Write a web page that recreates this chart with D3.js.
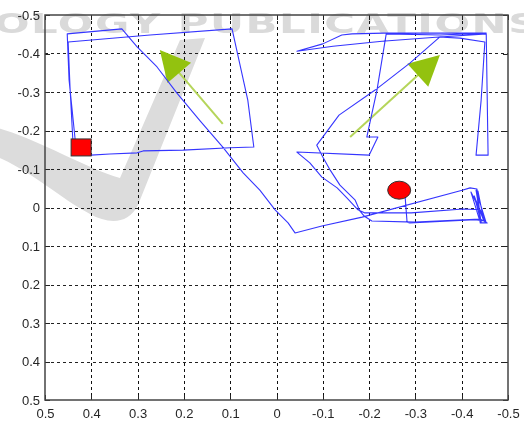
<!DOCTYPE html>
<html>
<head>
<meta charset="utf-8">
<script src="https://cdn.jsdelivr.net/npm/d3@7"></script>
<style>
  html, body { margin: 0; padding: 0; background: #fff; }
  svg { display: block; }
  .tick text { font-family: "Liberation Sans", Arial, sans-serif; font-size: 13px; fill: #262626; }
</style>
</head>
<body>
<svg id="chart" width="524" height="423"></svg>
<script>
// Axis ticks (x axis runs from +0.5 on the left to -0.5 on the right,
// y axis from -0.5 at the top to +0.5 at the bottom)
const xTicks = [0.5, 0.4, 0.3, 0.2, 0.1, 0, -0.1, -0.2, -0.3, -0.4, -0.5];
const xTickLabels = ["0.5", "0.4", "0.3", "0.2", "0.1", "0", "-0.1", "-0.2", "-0.3", "-0.4", "-0.5"];
const yTicks = [-0.5, -0.4, -0.3, -0.2, -0.1, 0, 0.1, 0.2, 0.3, 0.4, 0.5];
const yTickLabels = ["-0.5", "-0.4", "-0.3", "-0.2", "-0.1", "0", "0.1", "0.2", "0.3", "0.4", "0.5"];

// Recorded trajectory
const pathX = [0.431, 0.401, 0.360, 0.301, 0.288, 0.202, 0.100, 0.049, 0.062, 0.096, 0.273, 0.450,
  0.446, 0.440, 0.433, 0.435, 0.448, 0.452, 0.334, 0.301, 0.258, 0.215, 0.165, 0.116,
  0.072, 0.036, 0.003, -0.025, -0.040, -0.098, -0.185, -0.401,
  -0.418, -0.433, -0.435, -0.440, -0.420, -0.453, -0.431, -0.442, -0.427, -0.448, -0.435, -0.440, -0.455,
  -0.440, -0.299, -0.206, -0.189, -0.180,
  -0.170, -0.137, -0.116, -0.100, -0.087,
  -0.135, -0.213, -0.288, -0.353,
  -0.453,
  -0.455, -0.457, -0.431, -0.442, -0.450,
  -0.396, -0.351, -0.228, -0.122, -0.044,
  -0.100, -0.141, -0.163, -0.232, -0.353, -0.453, -0.353, -0.237,
  -0.217, -0.195, -0.219, -0.200, -0.044,
  -0.072, -0.098, -0.131, -0.152, -0.176,
  -0.191, -0.291, -0.403, -0.440, -0.450, -0.429, -0.288, -0.282, -0.278, -0.275];
const pathY = [-0.144, -0.136, -0.139, -0.142, -0.147, -0.149, -0.155, -0.157, -0.279, -0.464, -0.448, -0.430,
  -0.313, -0.178, -0.149, -0.178, -0.331, -0.451, -0.464, -0.417, -0.365, -0.297, -0.225, -0.157,
  -0.090, -0.045, 0.006, 0.040, 0.066, 0.048, 0.025, -0.045,
  -0.051, -0.048, -0.006, 0.038, -0.040, 0.040, -0.045, 0.038, -0.030, 0.035, -0.043, 0.040, 0.040,
  0.030, 0.038, 0.035, 0.022, 0.009,
  -0.019, -0.058, -0.097, -0.131, -0.162,
  -0.240, -0.305, -0.375, -0.443,
  -0.451,
  -0.292, -0.136, -0.136, -0.279, -0.430,
  -0.440, -0.443, -0.432, -0.419, -0.406,
  -0.425, -0.448, -0.451, -0.453, -0.453, -0.453, -0.448, -0.451,
  -0.305, -0.183, -0.183, -0.136, -0.144,
  -0.116, -0.079, -0.051, -0.025, 0.006,
  0.014, 0.014, 0.004, 0.006, 0.035, 0.032, 0.040, 0.038, -0.025, -0.030];

// Start / end markers
const startPoint = [0.422, -0.156];
const endPoint = [-0.265, -0.045];

// Direction arrows (tail -> tip)
const arrowTails = [[0.116, -0.217], [-0.159, -0.183]];
const arrowTips = [[0.252, -0.409], [-0.353, -0.396]];

const W = 524, H = 423;
const plot = { left: 45, top: 15, width: 463, height: 385 };

const svg = d3.select("#chart");
svg.append("rect").attr("width", W).attr("height", H).attr("fill", "#fff");

const x = d3.scaleLinear().domain([0.5, -0.5]).range([plot.left, plot.left + plot.width]);
const y = d3.scaleLinear().domain([-0.5, 0.5]).range([plot.top, plot.top + plot.height]);

// Soft grey publisher mark in the background
const defs = svg.append("defs");
defs.append("filter").attr("id", "soft")
  .append("feGaussianBlur").attr("stdDeviation", 0.7);

const mark = svg.append("g").attr("filter", "url(#soft)");
mark.append("path")
  .attr("d", "M -5,127 C 40,140 90,170 120,178 L 180,40 L 205,38 L 138,205 C 128,225 108,224 90,214 C 60,198 30,170 -5,156 Z")
  .attr("fill", "#dcdcdc");
mark.append("text")
  .attr("transform", "scale(1.55,1)")
  .attr("x", -6 / 1.55)
  .attr("y", 33)
  .attr("font-family", "DejaVu Sans, Liberation Sans, sans-serif")
  .attr("font-weight", "bold")
  .attr("font-size", 27)
  .attr("letter-spacing", 1)
  .attr("fill", "#dadada")
  .text("OLOGY PUBLICATIONS");

// Grid
const grid = svg.append("g").attr("shape-rendering", "crispEdges");
grid.selectAll("line.vx")
  .data(xTicks.slice(1, -1))
  .join("line")
  .attr("x1", d => Math.round(x(d)) + 0.5).attr("x2", d => Math.round(x(d)) + 0.5)
  .attr("y1", plot.top).attr("y2", plot.top + plot.height)
  .attr("stroke", "#111").attr("stroke-width", 1).attr("stroke-dasharray", "3,3");
grid.selectAll("line.hy")
  .data(yTicks.slice(1, -1))
  .join("line")
  .attr("y1", d => Math.round(y(d)) + 0.5).attr("y2", d => Math.round(y(d)) + 0.5)
  .attr("x1", plot.left).attr("x2", plot.left + plot.width)
  .attr("stroke", "#222").attr("stroke-width", 1).attr("stroke-dasharray", "3,3");

// Axes with inward ticks on all four sides
function styleAxis(g) {
  g.select(".domain").remove();
  g.selectAll(".tick line").attr("stroke", "#222").attr("shape-rendering", "crispEdges");
}
svg.append("g")
  .attr("transform", `translate(0,${plot.top + plot.height})`)
  .call(d3.axisBottom(x).tickValues(xTicks).tickSize(-5).tickSizeOuter(0).tickPadding(9)
    .tickFormat((d, i) => xTickLabels[i]))
  .call(styleAxis);
svg.append("g")
  .attr("transform", `translate(${plot.left},0)`)
  .call(d3.axisLeft(y).tickValues(yTicks).tickSize(-5).tickSizeOuter(0).tickPadding(5)
    .tickFormat((d, i) => yTickLabels[i]))
  .call(styleAxis);
svg.append("g")
  .attr("transform", `translate(0,${plot.top})`)
  .call(d3.axisTop(x).tickValues(xTicks).tickSize(-5).tickSizeOuter(0).tickFormat(""))
  .call(styleAxis);
svg.append("g")
  .attr("transform", `translate(${plot.left + plot.width},0)`)
  .call(d3.axisRight(y).tickValues(yTicks).tickSize(-5).tickSizeOuter(0).tickFormat(""))
  .call(styleAxis);

// Plot frame
svg.append("rect")
  .attr("x", plot.left).attr("y", plot.top)
  .attr("width", plot.width).attr("height", plot.height)
  .attr("fill", "none").attr("stroke", "#444").attr("stroke-width", 1.5);

// Direction arrows
const headLen = 30, headHalf = 15.5;
const arrows = svg.append("g");
arrowTails.forEach((t, i) => {
  const x0 = x(t[0]), y0 = y(t[1]);
  const x1 = x(arrowTips[i][0]), y1 = y(arrowTips[i][1]);
  const len = Math.hypot(x1 - x0, y1 - y0);
  const ux = (x1 - x0) / len, uy = (y1 - y0) / len;
  const bx = x1 - headLen * ux, by = y1 - headLen * uy;
  const nx = -uy, ny = ux;
  arrows.append("line")
    .attr("x1", x0).attr("y1", y0)
    .attr("x2", bx + 6 * ux).attr("y2", by + 6 * uy)
    .attr("stroke", "#b5d55a").attr("stroke-width", 2);
  arrows.append("path")
    .attr("d", `M${x1},${y1} L${bx + headHalf * nx},${by + headHalf * ny} L${bx - headHalf * nx},${by - headHalf * ny} Z`)
    .attr("fill", "#93c20f");
});

// Trajectory
const pts = pathX.map((v, i) => [v, pathY[i]]);
svg.append("path")
  .datum(pts)
  .attr("d", d3.line().x(d => x(d[0])).y(d => y(d[1])))
  .attr("fill", "none")
  .attr("stroke", "#3535ff")
  .attr("stroke-width", 1.1)
  .attr("stroke-linejoin", "round");

// Start (square) and end (circle) markers
svg.append("rect")
  .attr("x", x(startPoint[0]) - 10).attr("y", y(startPoint[1]) - 8.5)
  .attr("width", 20).attr("height", 17)
  .attr("fill", "#ff0000").attr("stroke", "#333").attr("stroke-width", 1);
svg.append("ellipse")
  .attr("cx", x(endPoint[0])).attr("cy", y(endPoint[1]))
  .attr("rx", 11.5).attr("ry", 9)
  .attr("fill", "#ff0000").attr("stroke", "#333").attr("stroke-width", 1);
</script>
</body>
</html>
